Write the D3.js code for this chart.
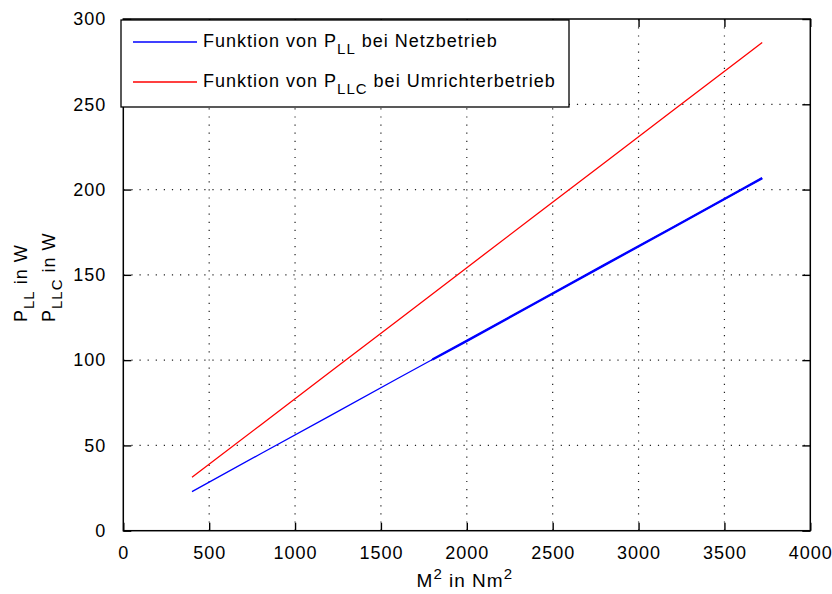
<!DOCTYPE html>
<html>
<head>
<meta charset="utf-8">
<script src="https://cdn.jsdelivr.net/npm/d3@7"></script>
<style>
  body { margin: 0; background: #fff; }
  svg text { font-family: "Liberation Sans", Arial, Helvetica, sans-serif; fill: #000; }
</style>
</head>
<body>
<svg id="chart" width="832" height="594"></svg>
<script>
// Squared torque M^2 in Nm^2
const msq  = [400, 800, 1200, 1600, 1800, 2000, 2400, 2800, 3200, 3600, 3720];
// Losses with mains supply (P_LL) in W
const pLL  = [22.9, 45.1, 67.2, 89.4, 100.4, 111.3, 133.5, 155.7, 177.8, 200.0, 206.7];
// Losses with converter supply (P_LLC) in W
const pLLC = [31.3, 62.0, 92.7, 123.4, 138.8, 154.2, 184.9, 215.6, 246.3, 277.0, 286.2];

const xTicks = [0, 500, 1000, 1500, 2000, 2500, 3000, 3500, 4000];
const yTicks = [0, 50, 100, 150, 200, 250, 300];

const legendEntries = [
  { color: "#0000ff", parts: ["Funktion von P", "LL", " bei Netzbetrieb"] },
  { color: "#ff0000", parts: ["Funktion von P", "LLC", " bei Umrichterbetrieb"] }
];
const yLabelLines = [["P", "LL", " in W"], ["P", "LLC", " in W"]];
const xLabelParts = ["M", "2", " in Nm", "2"];

const W = 832, H = 594;
const plot = { left: 123.3, right: 810.3, top: 19, bottom: 530.7 };

const svg = d3.select("#chart");
const x = d3.scaleLinear().domain([0, 4000]).range([plot.left, plot.right]);
const y = d3.scaleLinear().domain([0, 300]).range([plot.bottom, plot.top]);

const fontSize = 18, letterSp = 1, tickLen = 8;

// dotted grid
const grid = svg.append("g").attr("stroke", "#222").attr("stroke-width", 1.2)
  .attr("stroke-dasharray", "1.2,6.9").attr("fill", "none");
grid.selectAll("line.gx").data(xTicks.slice(1, -1)).join("line")
  .attr("x1", d => x(d)).attr("x2", d => x(d))
  .attr("y1", plot.bottom).attr("y2", plot.top);
grid.selectAll("line.gy").data(yTicks.slice(1, -1)).join("line")
  .attr("y1", d => y(d)).attr("y2", d => y(d))
  .attr("x1", plot.left).attr("x2", plot.right);

// data lines
const line = d3.line().x(d => x(d[0])).y(d => y(d[1]));
const blue = msq.map((m, i) => [m, pLL[i]]);
const red = msq.map((m, i) => [m, pLLC[i]]);
svg.append("path").attr("d", line(red)).attr("fill", "none")
  .attr("stroke", "#ff0000").attr("stroke-width", 1.3);
svg.append("path").attr("d", line(blue)).attr("fill", "none")
  .attr("stroke", "#0000ff").attr("stroke-width", 1.3);
// denser measurement range is drawn heavier
svg.append("path").attr("d", line(blue.filter(d => d[0] >= 1800))).attr("fill", "none")
  .attr("stroke", "#0000ff").attr("stroke-width", 2.4);

// axes with inward ticks on all four sides
function styleAxis(g, labels) {
  g.select(".domain").remove();
  g.selectAll(".tick line").attr("stroke", "#000").attr("stroke-width", 1.4);
  g.selectAll(".tick text")
    .style("font-size", fontSize + "px")
    .style("letter-spacing", letterSp + "px")
    .attr("fill", "#000");
  if (!labels) g.selectAll(".tick text").remove();
}
svg.append("g").attr("transform", `translate(0,${plot.bottom})`)
  .call(d3.axisBottom(x).tickValues(xTicks).tickFormat(d3.format("d"))
    .tickSize(-tickLen).tickPadding(16))
  .call(g => styleAxis(g, true));
svg.append("g").attr("transform", `translate(0,${plot.top})`)
  .call(d3.axisTop(x).tickValues(xTicks).tickSize(-tickLen))
  .call(g => styleAxis(g, false));
svg.append("g").attr("transform", `translate(${plot.left},0)`)
  .call(d3.axisLeft(y).tickValues(yTicks).tickFormat(d3.format("d"))
    .tickSize(-tickLen).tickPadding(17))
  .call(g => styleAxis(g, true));
svg.append("g").attr("transform", `translate(${plot.right},0)`)
  .call(d3.axisRight(y).tickValues(yTicks).tickSize(-tickLen))
  .call(g => styleAxis(g, false));

// plot box
svg.append("rect")
  .attr("x", plot.left).attr("y", plot.top)
  .attr("width", plot.right - plot.left).attr("height", plot.bottom - plot.top)
  .attr("fill", "none").attr("stroke", "#000").attr("stroke-width", 1.5);

// text with TeX-like sub/superscripts
function richText(sel, parts, shifts) {
  parts.forEach((p, i) => {
    const s = shifts[i];
    const t = sel.append("tspan").text(p);
    if (s !== 0) t.style("font-size", "15px");
    if (i > 0) {
      const prev = shifts[i - 1];
      t.attr("dy", s - prev);
    } else if (s !== 0) t.attr("dy", s);
  });
}

// legend
const lg = svg.append("g");
lg.append("rect").attr("x", 121).attr("y", 20).attr("width", 448).attr("height", 87)
  .attr("fill", "#fff").attr("stroke", "#000").attr("stroke-width", 1.3);
legendEntries.forEach((e, i) => {
  const ly = 42 + i * 40;
  lg.append("line").attr("x1", 133).attr("x2", 197).attr("y1", ly).attr("y2", ly)
    .attr("stroke", e.color).attr("stroke-width", 1.3);
  const t = lg.append("text").attr("x", 203).attr("y", ly + 4.5)
    .style("font-size", fontSize + "px").style("letter-spacing", letterSp + "px");
  richText(t, e.parts, [0, 7, 0]);
});

// y label (two rotated lines)
yLabelLines.forEach((parts, i) => {
  const t = svg.append("text")
    .attr("transform", `translate(${27 + i * 28},322) rotate(-90)`)
    .style("font-size", fontSize + "px").style("letter-spacing", letterSp + "px");
  richText(t, parts, [0, 7, 0]);
});

// x label
const xl = svg.append("text").attr("x", x(2000) - 2).attr("y", 587)
  .attr("text-anchor", "middle")
  .style("font-size", "19px").style("letter-spacing", letterSp + "px");
richText(xl, xLabelParts, [0, -8, 0, -8]);
</script>
</body>
</html>
